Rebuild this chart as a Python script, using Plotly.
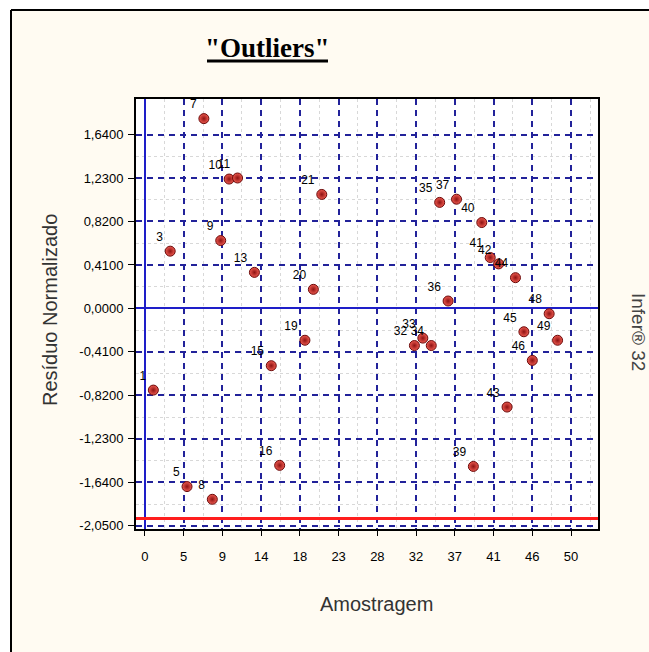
import plotly.graph_objects as go

# ---- data ----
samples = [1, 3, 5, 7, 8, 9, 10, 11, 13, 15, 16, 19, 20, 21,
           32, 33, 34, 35, 36, 37, 39, 40, 41, 42, 43, 44, 45, 46, 48, 49]
residuals = [-0.77, 0.54, -1.68, 1.79, -1.80, 0.64, 1.22, 1.23, 0.34, -0.54, -1.48, -0.30, 0.18, 1.075,
             -0.35, -0.28, -0.35, 1.00, 0.07, 1.03, -1.49, 0.81, 0.48, 0.42, -0.93, 0.29, -0.22, -0.49, -0.05, -0.30]
labels = [str(s) for s in samples]

x_tickvals = [k * 4.6 for k in range(12)]
x_ticktext = ["0", "5", "9", "14", "18", "23", "28", "32", "37", "41", "46", "50"]
y_tickvals = [-2.05, -1.64, -1.23, -0.82, -0.41, 0.0, 0.41, 0.82, 1.23, 1.64]
y_ticktext = ["-2,0500", "-1,6400", "-1,2300", "-0,8200", "-0,4100", "0,0000",
              "0,4100", "0,8200", "1,2300", "1,6400"]
limit_value = -1.98

# plot area pixel box
L, R, T, B = 136, 598, 99, 529
W, H = 649, 652
def px(x):
    return (x - L) / (R - L)
def py(y):
    return (B - y) / (B - T)

grid_blue = "#22229A"
fig = go.Figure()
fig.add_trace(go.Scatter(
    x=samples, y=residuals, mode="markers+text", text=labels,
    textposition="top left",
    textfont=dict(family="Liberation Sans", size=12, color="black"),
    marker=dict(size=10, color="#EE5A50", line=dict(color="#6B0A0A", width=1),
                gradient=dict(type="radial", color="#8E1212")),
    cliponaxis=False, showlegend=False,
))

x_minor = [(x_tickvals[i] + x_tickvals[i + 1]) / 2 for i in range(len(x_tickvals) - 1)] + [x_tickvals[-1] + 2.3]
y_minor = [(y_tickvals[i] + y_tickvals[i + 1]) / 2 for i in range(len(y_tickvals) - 1)]

fig.update_xaxes(
    range=[-1.06, 53.8], tickmode="array", tickvals=x_tickvals, ticktext=x_ticktext,
    showgrid=True, gridcolor=grid_blue, gridwidth=1.5, griddash="6px,5px",
    zeroline=True, zerolinecolor="#1E1EC8", zerolinewidth=1.5,
    showline=True, linecolor="black", linewidth=2, mirror=True,
    ticks="outside", ticklen=5, tickcolor="black", ticklabelstandoff=9,
    tickfont=dict(family="Liberation Sans", size=13, color="black"),
    minor=dict(tickvals=x_minor, showgrid=True, gridcolor="#D8D8D8", griddash="dot", gridwidth=1),
)
fig.update_yaxes(
    range=[-2.08, 1.975], tickmode="array", tickvals=y_tickvals, ticktext=y_ticktext,
    showgrid=True, gridcolor=grid_blue, gridwidth=1.5, griddash="6px,5px",
    zeroline=True, zerolinecolor="#1E1EC8", zerolinewidth=1.5,
    showline=True, linecolor="black", linewidth=2, mirror=True,
    ticks="outside", ticklen=6, tickcolor="black", ticklabelstandoff=2,
    tickfont=dict(family="Liberation Sans", size=13, color="black"),
    minor=dict(tickvals=y_minor, showgrid=True, gridcolor="#D8D8D8", griddash="dot", gridwidth=1),
)

shapes = [
    dict(type="line", xref="paper", yref="y", x0=0, x1=1, y0=limit_value, y1=limit_value,
         line=dict(color="#FF1E1E", width=3)),
    # title underline
    dict(type="line", xref="paper", yref="paper", x0=px(207), x1=px(328), y0=py(61), y1=py(61),
         line=dict(color="black", width=3)),
    # white margins outside frame
    dict(type="rect", xref="paper", yref="paper", x0=px(0), x1=px(10), y0=py(H), y1=py(0),
         fillcolor="white", line=dict(width=0), layer="below"),
    dict(type="rect", xref="paper", yref="paper", x0=px(0), x1=px(W), y0=py(9), y1=py(0),
         fillcolor="white", line=dict(width=0), layer="below"),
    dict(type="line", xref="paper", yref="paper", x0=px(11), x1=px(11), y0=py(10), y1=py(H),
         line=dict(color="black", width=2)),
    dict(type="line", xref="paper", yref="paper", x0=px(11), x1=px(W), y0=py(10), y1=py(10),
         line=dict(color="black", width=2)),
]

annotations = [
    dict(text='<b>"Outliers"</b>', xref="paper", yref="paper", x=px(267), y=py(48),
         xanchor="center", yanchor="middle", showarrow=False,
         font=dict(family="Liberation Serif", size=27, color="black")),
    dict(text="Resíduo Normalizado", xref="paper", yref="paper", x=px(50), y=py(310),
         xanchor="center", yanchor="middle", showarrow=False, textangle=-90,
         font=dict(family="Liberation Sans", size=20, color="#333333")),
    dict(text="Amostragem", xref="paper", yref="paper", x=px(376), y=py(604),
         xanchor="center", yanchor="middle", showarrow=False,
         font=dict(family="Liberation Sans", size=20, color="#333333")),
    dict(text="Infer® 32", xref="paper", yref="paper", x=px(639), y=py(332),
         xanchor="center", yanchor="middle", showarrow=False, textangle=90,
         font=dict(family="Liberation Sans", size=19, color="#444444")),
]

fig.update_layout(
    width=W, height=H, autosize=False,
    margin=dict(l=L, r=W - R, t=T, b=H - B, pad=0),
    paper_bgcolor="#FFFBF2", plot_bgcolor="white",
    shapes=shapes, annotations=annotations,
)

fig.write_html(
    "out.html",
    config={"displayModeBar": False},
    post_script="document.body.style.margin='0';document.body.style.overflow='hidden';",
)
